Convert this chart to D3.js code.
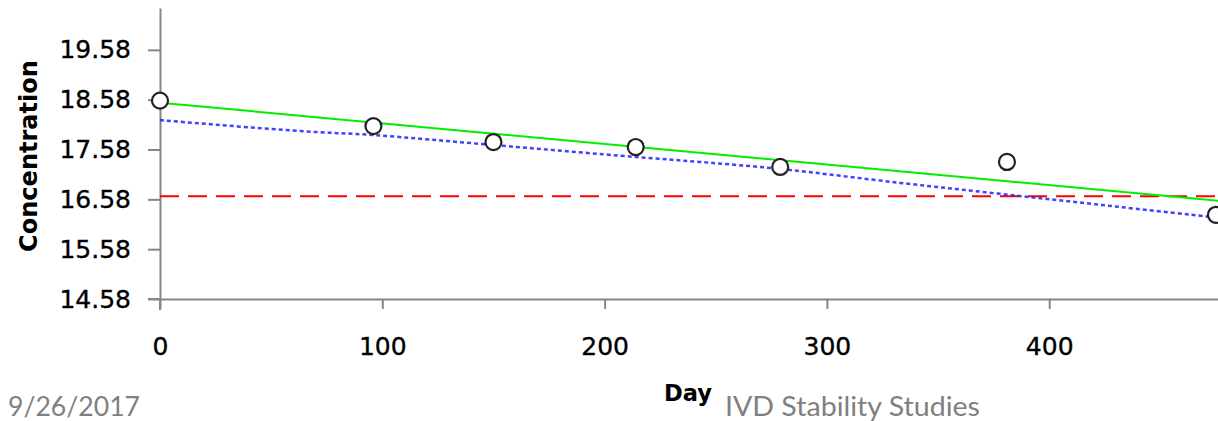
<!DOCTYPE html>
<html>
<head>
<meta charset="utf-8">
<script src="https://cdn.jsdelivr.net/npm/d3@7/dist/d3.min.js"></script>
<style>
  html, body { margin: 0; padding: 0; background: #ffffff; }
  svg { display: block; }
</style>
</head>
<body>
<svg id="chart" width="1218" height="421"></svg>
<script>
// Stability measurements
const days = [0, 96, 150, 214, 279, 381, 475];
const concentration = [18.56, 18.05, 17.73, 17.63, 17.23, 17.33, 16.27];

// Regression line (end points)
const fitDays = [0, 500];
const fitConc = [18.52, 16.45];

// Lower confidence bound
const lowerDays = [0, 63, 96, 150, 214, 243, 279, 333, 378, 423, 476];
const lowerConc = [18.17, 17.95, 17.87, 17.67, 17.43, 17.33, 17.19, 16.91, 16.69, 16.47, 16.21];

// Specification limit
const specDays = [0, 500];
const specConc = [16.64, 16.64];

// Axis ticks
const xTicks = [0, 100, 200, 300, 400];
const yTicks = [14.58, 15.58, 16.58, 17.58, 18.58, 19.58];

const svg = d3.select("#chart");

const x = d3.scaleLinear().domain([0, 500]).range([160, 1271.5]);
const y = d3.scaleLinear().domain([14.58, 20.42]).range([299, 8]);

const axisColor = "#868686";

// Axes
const gx = svg.append("g")
  .attr("transform", `translate(0,${y(14.58)})`)
  .call(d3.axisBottom(x).tickValues(xTicks).tickSize(10).tickSizeOuter(0).tickPadding(28).tickFormat(d3.format("d")));

const gy = svg.append("g")
  .attr("transform", `translate(${x(0)},0)`)
  .call(d3.axisLeft(y).tickValues(yTicks).tickSize(12).tickSizeOuter(0).tickPadding(17).tickFormat(d3.format(".2f")));

[gx, gy].forEach(g => {
  g.select(".domain").attr("stroke", axisColor).attr("stroke-width", 2);
  g.selectAll(".tick line").attr("stroke", axisColor).attr("stroke-width", 2);
  g.selectAll(".tick text")
    .attr("fill", "#000")
    .attr("stroke", "#000")
    .attr("stroke-width", 0.35)
    .style("font-family", "'DejaVu Sans', Verdana, sans-serif")
    .style("font-size", "25px");
});

// Axis lines crossing past the origin
svg.append("line")
  .attr("x1", x(0) - 12).attr("x2", x(0))
  .attr("y1", y(14.58)).attr("y2", y(14.58))
  .attr("stroke", axisColor).attr("stroke-width", 2);
svg.append("line")
  .attr("x1", x(0)).attr("x2", x(0))
  .attr("y1", y(14.58)).attr("y2", y(14.58) + 11)
  .attr("stroke", axisColor).attr("stroke-width", 2);

const line = d3.line().x(d => x(d[0])).y(d => y(d[1]));

// Specification limit (red dashed)
svg.append("path")
  .datum(specDays.map((d, i) => [d, specConc[i]]))
  .attr("d", line)
  .attr("fill", "none")
  .attr("stroke", "#ff0000")
  .attr("stroke-width", 2)
  .attr("stroke-dasharray", "19,9");

// Lower confidence bound (blue dotted)
svg.append("path")
  .datum(lowerDays.map((d, i) => [d, lowerConc[i]]))
  .attr("d", d3.line().x(d => x(d[0])).y(d => y(d[1])).curve(d3.curveCatmullRom))
  .attr("fill", "none")
  .attr("stroke", "#2020ff")
  .attr("stroke-opacity", 0.85)
  .attr("stroke-width", 2.5)
  .attr("stroke-dasharray", "4,3");

// Regression line (green)
svg.append("path")
  .datum(fitDays.map((d, i) => [d, fitConc[i]]))
  .attr("d", line)
  .attr("fill", "none")
  .attr("stroke", "#00ee00")
  .attr("stroke-width", 2);

// Measured points
svg.append("g")
  .selectAll("circle")
  .data(days.map((d, i) => [d, concentration[i]]))
  .join("circle")
  .attr("cx", d => x(d[0]))
  .attr("cy", d => y(d[1]))
  .attr("r", 8)
  .attr("fill", "#ffffff")
  .attr("stroke", "#222222")
  .attr("stroke-width", 2.2);

// Axis titles
svg.append("text")
  .attr("transform", "translate(37,156) rotate(-90)")
  .attr("text-anchor", "middle")
  .attr("textLength", 192)
  .attr("lengthAdjust", "spacingAndGlyphs")
  .style("font-family", "'DejaVu Sans', Verdana, sans-serif")
  .style("font-weight", "bold")
  .style("font-size", "25px")
  .attr("fill", "#000")
  .text("Concentration");

svg.append("text")
  .attr("x", 664).attr("y", 401)
  .attr("textLength", 48)
  .attr("lengthAdjust", "spacingAndGlyphs")
  .style("font-family", "'DejaVu Sans', Verdana, sans-serif")
  .style("font-weight", "bold")
  .style("font-size", "23px")
  .attr("fill", "#000")
  .text("Day");

// Footer
svg.append("text")
  .attr("x", 725).attr("y", 416)
  .attr("textLength", 255)
  .attr("lengthAdjust", "spacingAndGlyphs")
  .style("font-family", "Lato, 'Open Sans', sans-serif")
  .style("font-size", "26px")
  .attr("fill", "#808080")
  .text("IVD Stability Studies");

svg.append("text")
  .attr("x", 8).attr("y", 416)
  .attr("textLength", 132)
  .attr("lengthAdjust", "spacingAndGlyphs")
  .style("font-family", "Lato, 'Open Sans', sans-serif")
  .style("font-size", "26px")
  .attr("fill", "#808080")
  .text("9/26/2017");
</script>
</body>
</html>
